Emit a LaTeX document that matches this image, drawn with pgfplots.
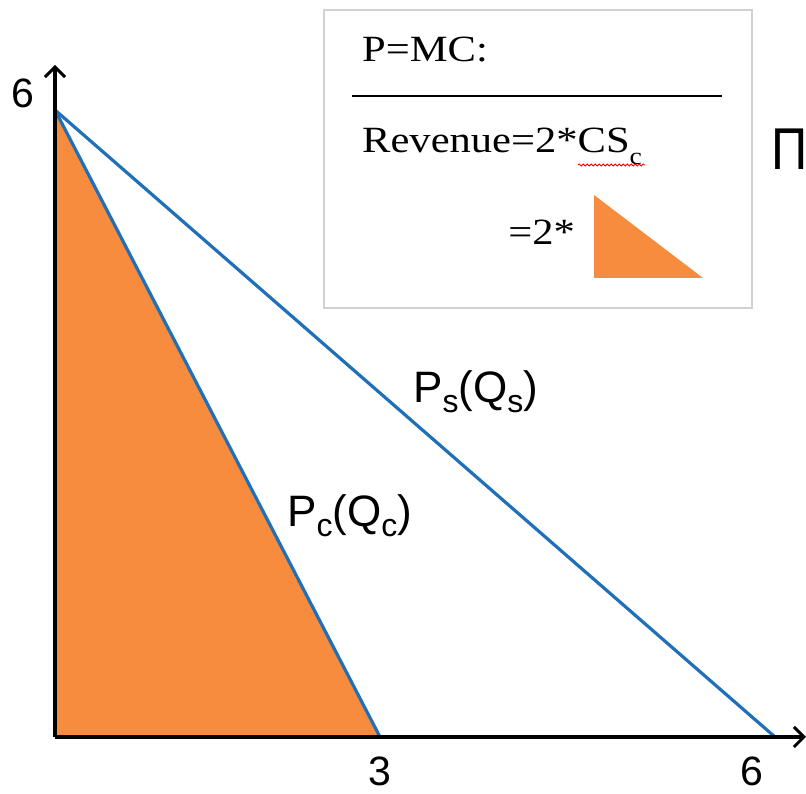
\documentclass[border=0pt]{standalone}
\usepackage{pgfplots}
\pgfplotsset{compat=1.18}
\usepackage{fontspec}
\setmainfont{Liberation Sans}
\newfontfamily\legfont[FakeStretch=1.15]{Liberation Serif}
\usetikzlibrary{decorations.pathmorphing,arrows.meta}
\definecolor{lineblue}{RGB}{31,112,184}
\definecolor{fillorange}{RGB}{248,140,62}
\newcommand\sub[1]{\raisebox{-10pt}{\fontsize{32}{32}\selectfont #1}}
\begin{document}
\begin{tikzpicture}
\useasboundingbox (-55pt,-57pt) rectangle (751pt,737pt);
\begin{axis}[
  at={(0pt,0pt)}, anchor=south west,
  scale only axis, width=751pt, height=672pt,
  xmin=0, xmax=6.932, ymin=0, ymax=6.431,
  axis x line*=bottom, axis y line*=left,
  axis line style={line width=3.4pt, -{Straight Barb[length=10pt,width=20pt,line width=3pt]}},
  xtick={3,6.434}, xticklabels={3,6},
  ytick={6.163}, yticklabels={6},
  major tick length=0pt,
  xticklabel style={anchor=north, inner sep=0pt, yshift=-20pt, font=\fontsize{41}{41}\selectfont},
  yticklabel style={anchor=east, inner sep=0pt, xshift=-20pt, font=\fontsize{41}{41}\selectfont},
  axis on top,
  clip=false,
]
\addplot[fill=fillorange, draw=none] coordinates {(0,0) (0,6) (3,0)} -- cycle;
\addplot[lineblue, line width=3.2pt] coordinates {(0,6) (3,0)};
\addplot[lineblue, line width=3.2pt] coordinates {(0,6) (6.646,0)};
\end{axis}
% curve labels
\node[anchor=base west, inner sep=0pt, font=\fontsize{44}{44}\selectfont] at (358pt,334pt) {P\sub{s}(Q\sub{s})};
\node[anchor=base west, inner sep=0pt, font=\fontsize{44}{44}\selectfont] at (232pt,210pt) {P\sub{c}(Q\sub{c})};
% text box
\draw[black!18, line width=1.5pt, fill=white] (269pt,429pt) rectangle (697pt,727pt);
\draw[black, line width=1.5pt] (297pt,641pt) -- (667pt,641pt);
\node[anchor=base west, inner sep=0pt, font=\legfont\fontsize{37}{37}\selectfont] at (307pt,675pt) {P=MC:};
\node[anchor=base west, inner sep=0pt, font=\legfont\fontsize{37}{37}\selectfont] at (307pt,584pt) {Revenue=2*CS\raisebox{-12pt}{\fontsize{24}{24}\selectfont c}};
\draw[red, line width=0.8pt, decorate, decoration={snake, amplitude=1pt, segment length=4pt}] (523pt,572pt) -- (590pt,572pt);
\node[anchor=base east, inner sep=0pt, font=\legfont\fontsize{37}{37}\selectfont] at (520pt,492pt) {=2*};
\fill[fillorange] (539pt,542pt) -- (539pt,459pt) -- (648pt,459pt) -- cycle;
\node[anchor=base west, inner sep=0pt, xscale=0.85, font=\fontsize{59}{59}\selectfont] at (716pt,567pt) {Π};
\end{tikzpicture}
\end{document}
